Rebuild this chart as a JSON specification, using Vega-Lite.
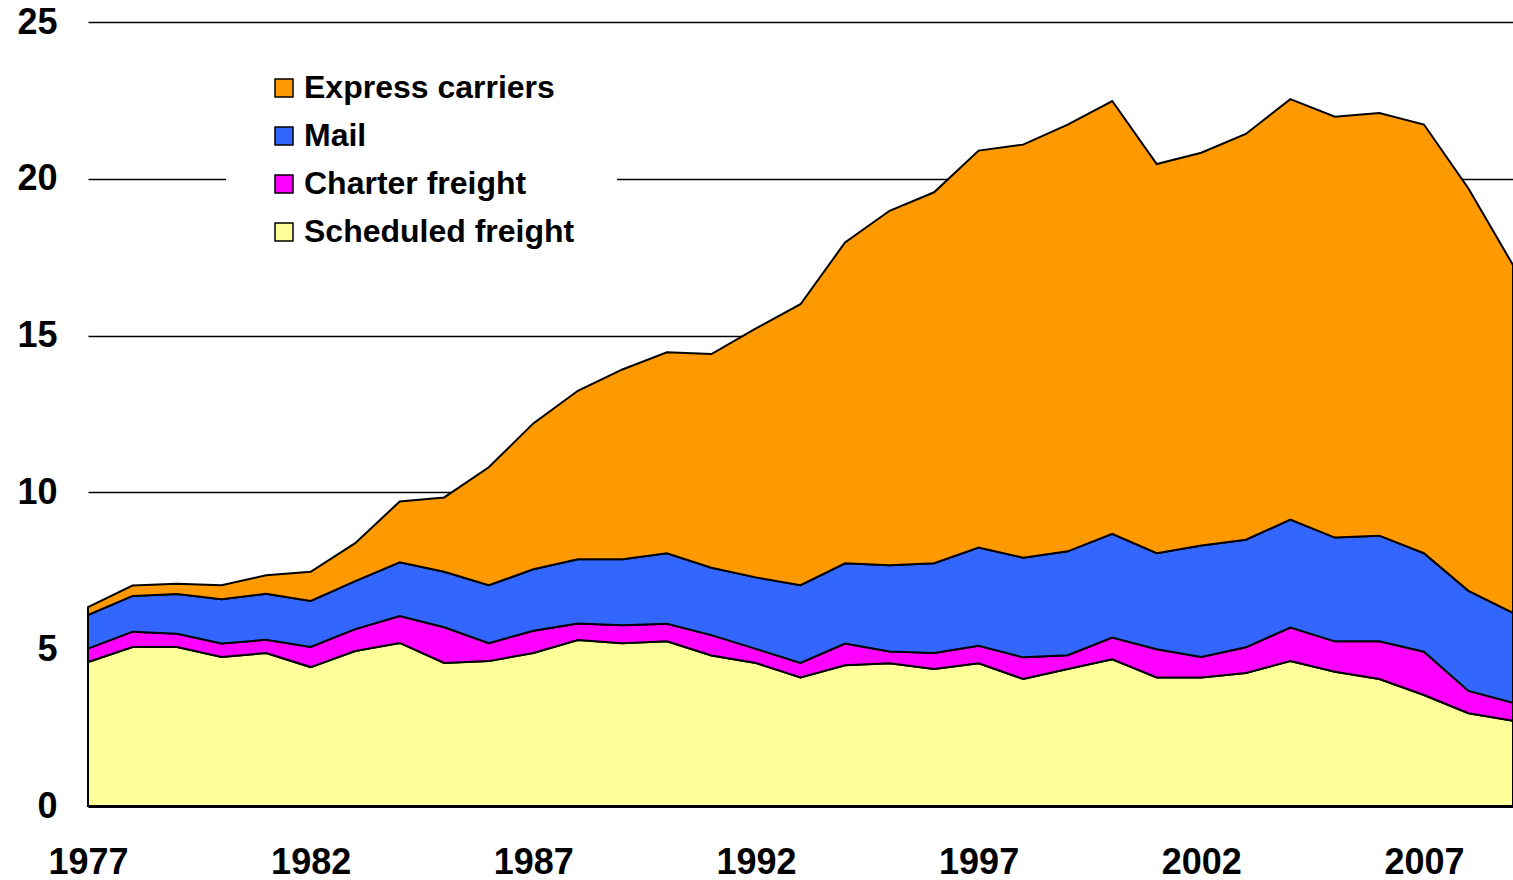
{
  "$schema": "https://vega.github.io/schema/vega-lite/v6.json",
  "width": 1425,
  "height": 784,
  "autosize": {"type": "none"},
  "padding": {"left": 88, "top": 22, "right": 0, "bottom": 74},
  "background": "white",
  "config": {
    "view": {"stroke": null},
    "font": "Liberation Sans"
  },
  "data": {
    "values": [
      {"year": 1977, "Scheduled freight": 4.59, "Charter freight": 0.43, "Mail": 1.07, "Express carriers": 0.25},
      {"year": 1978, "Scheduled freight": 5.07, "Charter freight": 0.49, "Mail": 1.14, "Express carriers": 0.33},
      {"year": 1979, "Scheduled freight": 5.07, "Charter freight": 0.42, "Mail": 1.27, "Express carriers": 0.33},
      {"year": 1980, "Scheduled freight": 4.75, "Charter freight": 0.43, "Mail": 1.41, "Express carriers": 0.45},
      {"year": 1981, "Scheduled freight": 4.88, "Charter freight": 0.42, "Mail": 1.47, "Express carriers": 0.59},
      {"year": 1982, "Scheduled freight": 4.43, "Charter freight": 0.64, "Mail": 1.47, "Express carriers": 0.93},
      {"year": 1983, "Scheduled freight": 4.94, "Charter freight": 0.70, "Mail": 1.53, "Express carriers": 1.21},
      {"year": 1984, "Scheduled freight": 5.20, "Charter freight": 0.86, "Mail": 1.71, "Express carriers": 1.94},
      {"year": 1985, "Scheduled freight": 4.56, "Charter freight": 1.14, "Mail": 1.77, "Express carriers": 2.37},
      {"year": 1986, "Scheduled freight": 4.62, "Charter freight": 0.57, "Mail": 1.85, "Express carriers": 3.76},
      {"year": 1987, "Scheduled freight": 4.88, "Charter freight": 0.71, "Mail": 1.96, "Express carriers": 4.65},
      {"year": 1988, "Scheduled freight": 5.29, "Charter freight": 0.53, "Mail": 2.05, "Express carriers": 5.37},
      {"year": 1989, "Scheduled freight": 5.19, "Charter freight": 0.57, "Mail": 2.11, "Express carriers": 6.05},
      {"year": 1990, "Scheduled freight": 5.25, "Charter freight": 0.56, "Mail": 2.25, "Express carriers": 6.41},
      {"year": 1991, "Scheduled freight": 4.80, "Charter freight": 0.65, "Mail": 2.15, "Express carriers": 6.81},
      {"year": 1992, "Scheduled freight": 4.56, "Charter freight": 0.45, "Mail": 2.28, "Express carriers": 7.94},
      {"year": 1993, "Scheduled freight": 4.10, "Charter freight": 0.46, "Mail": 2.48, "Express carriers": 8.96},
      {"year": 1994, "Scheduled freight": 4.49, "Charter freight": 0.69, "Mail": 2.56, "Express carriers": 10.23},
      {"year": 1995, "Scheduled freight": 4.55, "Charter freight": 0.38, "Mail": 2.75, "Express carriers": 11.30},
      {"year": 1996, "Scheduled freight": 4.37, "Charter freight": 0.51, "Mail": 2.86, "Express carriers": 11.83},
      {"year": 1997, "Scheduled freight": 4.55, "Charter freight": 0.56, "Mail": 3.13, "Express carriers": 12.66},
      {"year": 1998, "Scheduled freight": 4.05, "Charter freight": 0.69, "Mail": 3.18, "Express carriers": 13.17},
      {"year": 1999, "Scheduled freight": 4.37, "Charter freight": 0.44, "Mail": 3.31, "Express carriers": 13.61},
      {"year": 2000, "Scheduled freight": 4.68, "Charter freight": 0.69, "Mail": 3.31, "Express carriers": 13.80},
      {"year": 2001, "Scheduled freight": 4.10, "Charter freight": 0.90, "Mail": 3.06, "Express carriers": 12.41},
      {"year": 2002, "Scheduled freight": 4.10, "Charter freight": 0.65, "Mail": 3.56, "Express carriers": 12.52},
      {"year": 2003, "Scheduled freight": 4.24, "Charter freight": 0.82, "Mail": 3.43, "Express carriers": 12.94},
      {"year": 2004, "Scheduled freight": 4.62, "Charter freight": 1.07, "Mail": 3.44, "Express carriers": 13.41},
      {"year": 2005, "Scheduled freight": 4.28, "Charter freight": 0.97, "Mail": 3.31, "Express carriers": 13.42},
      {"year": 2006, "Scheduled freight": 4.05, "Charter freight": 1.20, "Mail": 3.37, "Express carriers": 13.48},
      {"year": 2007, "Scheduled freight": 3.54, "Charter freight": 1.38, "Mail": 3.14, "Express carriers": 13.67},
      {"year": 2008, "Scheduled freight": 2.96, "Charter freight": 0.71, "Mail": 3.19, "Express carriers": 12.83},
      {"year": 2009, "Scheduled freight": 2.72, "Charter freight": 0.57, "Mail": 2.87, "Express carriers": 11.09}
    ]
  },
  "transform": [
    {"fold": ["Scheduled freight", "Charter freight", "Mail", "Express carriers"], "as": ["series", "value"]},
    {
      "lookup": "series",
      "from": {
        "data": {"values": [
          {"series": "Scheduled freight", "rank": 1},
          {"series": "Charter freight", "rank": 2},
          {"series": "Mail", "rank": 3},
          {"series": "Express carriers", "rank": 4}
        ]},
        "key": "series",
        "fields": ["rank"]
      }
    }
  ],
  "mark": {"type": "area", "stroke": "black", "strokeWidth": 2, "strokeJoin": "miter", "opacity": 1, "fillOpacity": 1},
  "encoding": {
    "x": {
      "field": "year", "type": "quantitative",
      "scale": {"domain": [1977, 2009], "nice": false, "zero": false},
      "axis": {
        "title": null, "values": [1977, 1982, 1987, 1992, 1997, 2002, 2007], "format": "d",
        "grid": false, "domainColor": "black", "domainWidth": 3, "tickColor": "black", "tickWidth": 2, "tickSize": -12,
        "labelFont": "Liberation Sans", "labelFontWeight": "bold", "labelFontSize": 36, "labelColor": "black",
        "labelPadding": 51, "labelBaseline": "top", "labelFlush": false, "labelOverlap": false
      }
    },
    "y": {
      "field": "value", "type": "quantitative", "stack": "zero",
      "scale": {"domain": [0, 25], "nice": false},
      "axis": {
        "title": null, "values": [0, 5, 10, 15, 20, 25], "grid": true, "gridColor": "black", "gridWidth": 1.5,
        "domain": false, "ticks": false,
        "labelFont": "Liberation Sans", "labelFontWeight": "bold", "labelFontSize": 36, "labelColor": "black",
        "labelPadding": 31, "labelFlush": false, "labelOverlap": false
      }
    },
    "order": {"field": "rank", "type": "quantitative", "sort": "ascending"},
    "color": {
      "field": "series", "type": "nominal",
      "scale": {
        "domain": ["Express carriers", "Mail", "Charter freight", "Scheduled freight"],
        "range": ["#FF9900", "#3366FF", "#FF00FF", "#FFFF99"]
      },
      "legend": {
        "title": null, "orient": "none", "legendX": 138, "legendY": 8,
        "fillColor": "white", "padding": 42,
        "symbolType": "square", "symbolSize": 324, "symbolStrokeColor": "black", "symbolStrokeWidth": 1.5, "symbolOpacity": 1,
        "labelFont": "Liberation Sans", "labelFontWeight": "bold", "labelFontSize": 32, "labelColor": "black",
        "labelOffset": 4, "rowPadding": 16, "labelLimit": 600
      }
    }
  }
}
